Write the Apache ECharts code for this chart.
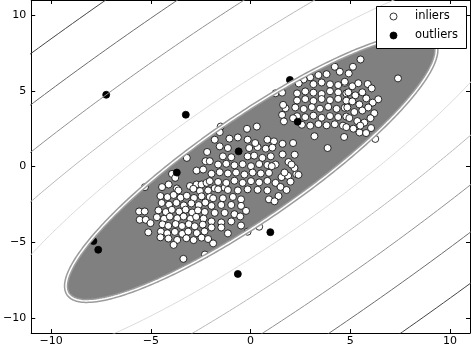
<!DOCTYPE html>
<html>
<head>
<meta charset="utf-8">
<script src="https://cdn.jsdelivr.net/npm/echarts@6/dist/echarts.min.js"></script>
<style>
  html, body { margin: 0; padding: 0; background: #fff; }
  #chart { width: 472px; height: 347px; }
</style>
</head>
<body>
<div id="chart"></div>
<script>
// Axis ticks
const xTicks = [-10, -5, 0, 5, 10];
const yTicks = [-10, -5, 0, 5, 10];

// Robust covariance fit: centre, semi-axes of the decision frontier, orientation (degrees)
const fitCenter = [0.03, -0.1];
const semiAxes = [12.42, 3.01];
const orientation = 43.2;

// Mahalanobis radii of the outer iso-lines, relative to the frontier
const levelRadii = [1.48, 2.12, 2.83, 3.55, 4.35];

// Legend entries
const legendNames = ['inliers', 'outliers'];

// Inlier samples
const inliers = [
  [-3.20,0.57],[-2.18,0.96],[-2.26,0.35],[-2.71,-0.27],[-2.38,-0.20],[-3.94,-0.49],[-3.78,-0.75],
  [-5.30,-1.36],[-4.44,-1.36],[-4.11,-1.19],[-3.70,-1.45],[-3.04,-1.29],[-2.71,-1.19],[-2.46,-1.19],[-2.21,-1.08],
  [-3.62,-1.58],[-2.87,-1.47],[-2.54,-1.62],
  [-4.52,-1.95],[-4.17,-2.02],[-3.86,-1.88],[-3.51,-2.06],[-3.20,-1.93],[-2.84,-2.08],[-2.46,-1.97],
  [-4.46,-2.41],[-4.09,-2.52],[-3.72,-2.40],[-3.35,-2.57],[-2.97,-2.44],[-2.60,-2.55],[-2.27,-2.38],
  [-4.62,-2.90],[-4.25,-3.01],[-3.95,-2.86],[-3.58,-2.98],[-3.26,-2.85],[-2.93,-3.04],[-2.64,-2.90],[-2.30,-3.00],
  [-4.70,-3.35],[-4.34,-3.45],[-4.05,-3.31],[-3.68,-3.42],[-3.36,-3.30],[-3.02,-3.46],[-2.73,-3.33],[-2.36,-3.44],
  [-4.42,-3.82],[-4.13,-3.92],[-3.76,-3.80],[-3.44,-3.93],[-3.10,-3.81],[-2.80,-3.95],[-2.40,-3.84],
  [-4.50,-4.30],[-4.18,-4.41],[-3.80,-4.32],[-3.43,-4.45],[-3.13,-4.30],[-2.70,-4.40],[-2.31,-4.29],
  [-4.12,-4.76],[-3.68,-4.85],[-3.22,-4.74],[-2.86,-4.86],
  [-5.59,-2.97],[-5.31,-2.97],[-5.56,-3.52],[-5.26,-3.52],[-5.02,-3.74],[-5.13,-4.35],[-3.86,-5.18],
  [-3.37,-6.10],[-2.29,-5.82],[-4.52,-4.68],
  [-1.80,-1.44],[-1.30,-1.40],
  [-2.05,-2.01],[-1.88,-2.10],[-1.39,-2.10],[-0.89,-2.01],[-0.48,-2.17],[0.92,-2.17],
  [-1.96,-2.60],[-1.47,-2.54],[-0.97,-2.54],[-0.48,-2.60],[-0.23,-2.93],
  [-1.80,-3.06],[-1.30,-3.06],[-0.81,-3.15],[-0.52,-3.30],
  [-1.96,-3.63],[-1.47,-3.70],[-0.97,-3.63],[-0.48,-3.90],
  [-1.96,-4.03],[-1.47,-4.03],[-1.14,-4.42],
  [-2.46,-4.70],[-2.13,-4.79],[-1.88,-5.08],
  [-0.15,-4.31],[0.43,-3.98],
  [0.31,2.64],[-0.18,2.49],[-1.50,2.64],[-1.55,2.27],
  [-1.80,1.77],[-1.06,1.84],[-0.64,1.92],[-0.15,1.77],[0.84,1.77],[1.17,1.66],
  [-1.55,1.33],[-1.14,1.22],[-0.07,1.22],[0.35,1.28],[0.76,1.18],[1.09,1.25],
  [-1.39,0.67],[-0.97,0.61],[-0.15,0.67],[0.18,0.72],[0.59,0.57],[1.01,0.67],
  [-2.05,0.35],[-1.63,0.13],[-1.22,0.18],[-0.81,0.08],[-0.40,0.15],[0.02,0.02],[0.43,0.16],[0.84,0.10],[1.25,0.13],
  [-1.96,-0.48],[-1.55,-0.38],[-1.14,-0.46],[-0.73,-0.40],[-0.31,-0.53],[0.10,-0.40],[0.51,-0.46],[0.92,-0.42],
  [-2.05,-0.97],[-1.63,-1.02],[-1.22,-1.08],[-0.81,-0.94],[-0.40,-1.08],[0.02,-0.97],[0.43,-1.05],[0.84,-0.95],[1.25,-1.08],
  [-2.13,-1.58],[-1.63,-1.51],[-1.14,-1.55],[-0.64,-1.58],[-0.15,-1.51],[0.35,-1.54],[0.84,-1.58],
  [1.55,-0.70],[1.88,-0.62],[2.29,-0.50],
  [1.60,0.80],[1.90,0.30],[2.20,-0.10],[1.70,-0.40],[2.00,-1.00],[1.50,-1.35],[2.40,-0.55],[1.60,1.50],
  [1.40,-1.95],[1.20,-2.30],[1.80,-1.55],[2.13,1.55],[2.21,0.78],[0.23,1.55],[1.06,0.02],[2.05,0.13],
  [4.22,6.59],[4.47,6.26],[3.81,6.10],[3.40,6.04],[2.99,5.89],[2.66,5.75],
  [1.25,4.84],[1.58,4.88],
  [2.41,5.49],[3.15,5.44],[3.56,5.55],[3.98,5.43],[4.39,5.38],[4.72,5.52],
  [2.33,4.83],[2.74,4.96],[3.15,4.88],[3.56,4.79],[3.98,4.97],[4.39,4.90],[4.80,4.83],
  [2.33,4.36],[2.74,4.45],[3.15,4.33],[3.56,4.46],[3.98,4.38],[4.39,4.47],[4.80,4.35],
  [1.75,3.85],[2.24,3.90],[2.66,3.80],[3.07,3.92],[3.48,3.82],[3.89,3.94],[4.31,3.81],[4.72,3.88],
  [2.33,3.32],[2.74,3.26],[3.15,3.36],[3.56,3.22],[3.98,3.33],[4.39,3.27],[4.80,3.30],
  [2.57,2.76],[2.99,2.70],[3.40,2.80],[3.81,2.72],[4.22,2.79],[4.63,2.70],
  [1.58,3.41],[1.67,2.98],[1.63,4.07],[2.13,3.19],
  [5.51,7.07],[5.13,6.59],[4.92,6.15],[7.39,5.82],[5.87,5.45],[6.07,5.16],[6.40,4.44],[6.12,4.22],
  [6.20,3.52],[6.01,3.19],[6.04,2.54],[6.25,1.82],[4.69,1.95],[5.46,2.25],[5.79,2.21],[3.86,1.22],[3.20,2.00],
  [4.72,5.60],[5.10,5.30],[5.40,5.50],[4.90,4.90],[5.25,4.70],[5.60,4.90],[5.80,4.50],[5.10,4.30],
  [5.45,4.10],[4.85,3.90],[5.20,3.60],[5.60,3.70],[5.90,3.90],[4.95,3.20],[5.35,3.00],[5.70,2.90],
  [4.80,2.60],[5.15,2.50],[5.50,2.70]
];

// Samples flagged as outliers
const outliers = [
  [-7.24,4.74],[-3.25,3.42],[-3.70,-0.40],[1.97,5.72],[2.36,2.96],
  [-0.60,1.00],[-7.88,-4.93],[-7.64,-5.50],[0.99,-4.34],[-0.64,-7.10]
];

// Iso-line shades, darkest for the farthest line
const levelColors = ['#dadada', '#b8b8b8', '#909090', '#6c6c6c', '#444444'];

function ellipsePath(r) {
  const th = orientation * Math.PI / 180;
  const c = Math.cos(th), s = Math.sin(th);
  const pts = [];
  for (let k = 0; k <= 720; k++) {
    const t = k * Math.PI / 360;
    const u = r * semiAxes[0] * Math.cos(t);
    const v = r * semiAxes[1] * Math.sin(t);
    pts.push([fitCenter[0] + u * c - v * s, fitCenter[1] + u * s + v * c]);
  }
  return pts;
}

const font = 'DejaVu Sans';
const series = [];

levelRadii.forEach((r, i) => {
  series.push({
    type: 'line', data: ellipsePath(r), showSymbol: false, symbol: 'none',
    clip: true, silent: true, animation: false,
    lineStyle: { color: levelColors[i], width: 1 }
  });
});

const frontier = ellipsePath(1);
// light halo just outside the frontier
series.push({
  type: 'line', data: frontier, symbol: 'none', showSymbol: false,
  silent: true, animation: false, lineStyle: { color: '#9c9c9c', width: 4.5 }
});
series.push({
  type: 'custom', clip: true, silent: true, animation: false,
  data: [[0, 0]],
  renderItem: (params, api) => ({
    type: 'polygon',
    shape: { points: frontier.map(p => api.coord(p)) },
    style: { fill: '#808080', stroke: null }
  })
});
series.push({
  type: 'line', data: frontier, symbol: 'none', showSymbol: false,
  silent: true, animation: false, lineStyle: { color: '#ffffff', width: 1.5 }
});

const markerStyles = [
  { color: '#ffffff', borderColor: '#000000', borderWidth: 0.8, opacity: 1 },
  { color: '#000000', borderColor: '#000000', borderWidth: 0.8, opacity: 1 }
];
series.push({
  name: legendNames[0], type: 'scatter', data: inliers, symbol: 'circle', symbolSize: 7,
  animation: false, itemStyle: markerStyles[0]
});
series.push({
  name: legendNames[1], type: 'scatter', data: outliers, symbol: 'circle', symbolSize: 7,
  animation: false, itemStyle: markerStyles[1]
});

// Legend box, drawn over the upper-right corner of the plot
const legendGraphic = {
  type: 'group', left: 376, top: 6, z: 100,
  children: [
    { type: 'rect', z: 100, shape: { x: 0.5, y: 0.5, width: 90, height: 42 },
      style: { fill: '#ffffff', stroke: '#000000', lineWidth: 1 } }
  ]
};
legendNames.forEach((name, i) => {
  const cy = 10.5 + i * 19;
  legendGraphic.children.push({
    type: 'circle', z: 101, shape: { cx: 17.5, cy, r: 3.5 },
    style: { fill: markerStyles[i].color, stroke: '#000000', lineWidth: 0.8 }
  });
  legendGraphic.children.push({
    type: 'text', z: 101, x: 39, y: cy,
    style: { text: name, fill: '#000000', font: '11.5px "DejaVu Sans"', verticalAlign: 'middle', align: 'left' }
  });
});

const minusFmt = v => (v < 0 ? '\u2212' + Math.abs(v) : String(v));
const axisLine = { show: true, onZero: false, lineStyle: { color: '#000', width: 1 } };
const tick = vals => ({ show: true, inside: true, length: 4, customValues: vals, lineStyle: { color: '#000', width: 1 } });

const chart = echarts.init(document.getElementById('chart'), null, { renderer: 'canvas' });
chart.setOption({
  animation: false,
  backgroundColor: '#ffffff',
  grid: { left: 25, right: 2, top: 0, bottom: 12, containLabel: false },
  graphic: [legendGraphic],
  xAxis: [
    { type: 'value', min: -11, max: 11, position: 'bottom', axisLine, axisTick: tick(xTicks),
      splitLine: { show: false },
      axisLabel: { customValues: xTicks, formatter: minusFmt, color: '#000', fontFamily: font, fontSize: 11, margin: 3 } },
    { type: 'value', min: -11, max: 11, position: 'top', axisLine, axisTick: tick(xTicks),
      splitLine: { show: false }, axisLabel: { show: false } }
  ],
  yAxis: [
    { type: 'value', min: -11, max: 11, position: 'left', axisLine, axisTick: tick(yTicks),
      splitLine: { show: false },
      axisLabel: { customValues: yTicks, formatter: minusFmt, color: '#000', fontFamily: font, fontSize: 11, margin: 5 } },
    { type: 'value', min: -11, max: 11, position: 'right', axisLine, axisTick: tick(yTicks),
      splitLine: { show: false }, axisLabel: { show: false } }
  ],
  series
});
</script>
</body>
</html>
